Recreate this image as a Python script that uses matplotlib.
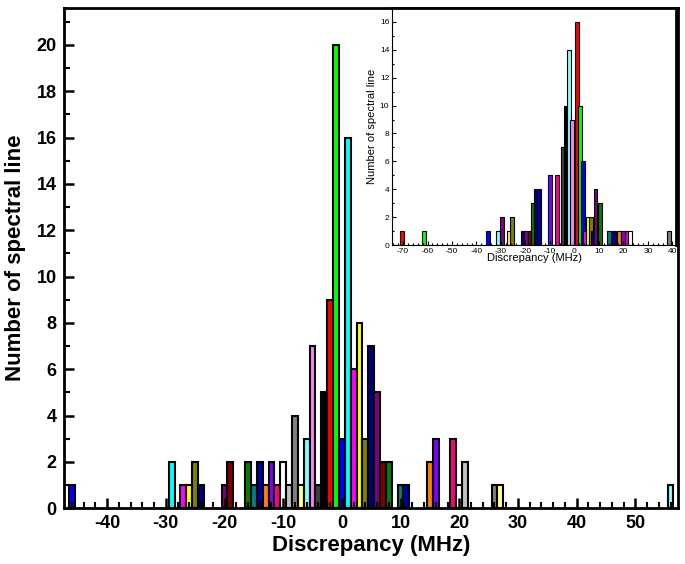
import numpy as np
import matplotlib
matplotlib.use("Agg")
import matplotlib.pyplot as plt
from matplotlib.ticker import MultipleLocator

plt.rcParams['font.family'] = ['Liberation Sans', 'DejaVu Sans']
plt.rcParams['axes.unicode_minus'] = False

# Origin default colour cycle (each new bar takes the next colour)
ORIGIN = ['#000000', '#FF0000', '#00FF00', '#0000FF', '#00FFFF', '#FF00FF',
          '#FFFF00', '#808000', '#000080', '#800080', '#800000', '#008000',
          '#008080', '#0000A0', '#FF8000', '#8000FF', '#FF0080', '#FFFFFF',
          '#C0C0C0', '#808080', '#FFFF80', '#80FFFF', '#FF80FF', '#404040']

# main histogram: discrepancy (MHz) -> number of lines
main_x = [-46, -29, -27, -26, -25, -24, -20, -19, -16, -15, -14, -13, -12,
          -11, -10, -9, -8, -7, -6, -5, -4, -3, -2, -1, 0, 1, 2, 3, 4, 5,
          6, 7, 8, 10, 11, 15, 16, 19, 20, 21, 26, 27, 56]
main_n = [1, 2, 1, 1, 2, 1, 1, 2, 2, 1, 2, 1, 2, 1, 2, 1, 4, 1, 3, 7, 1, 5,
          9, 20, 3, 16, 6, 8, 3, 7, 5, 2, 2, 1, 1, 2, 3, 3, 1, 2, 1, 1, 1]

# inset histogram
ins_x = [-70.5, -61.3, -35.3, -31.3, -29.5, -26.8, -25.4, -21.0, -19.6, -18.3,
         -16.8, -15.8, -14.6, -10.1, -7.3, -4.8, -3.3, -2.2, -0.9, 1.1, 2.2,
         3.6, 4.5, 5.6, 6.6, 7.5, 8.6, 10.4, 14.0, 16.3, 18.3, 19.8, 21.3,
         22.8, 38.6]
ins_n = [1, 1, 1, 1, 2, 1, 2, 1, 1, 1, 3, 4, 4, 5, 5, 7, 10, 14, 9, 16, 10,
         6, 1, 2, 2, 1, 4, 3, 1, 1, 1, 1, 1, 1, 1]
ins_col = [1, 2, 3, 21, 9, 6, 7, 8, 9, 10, 11, 8, 13, 15, 16, 23, 0, 21, 22,
           1, 2, 3, 5, 6, 7, 8, 9, 11, 12, 13, 14, 15, 16, 17, 19]

fig = plt.figure(figsize=(6.85, 5.64), dpi=100)
ax = fig.add_axes([0.093, 0.099, 0.897, 0.887])

main_col = [ORIGIN[(3 + i) % 24] for i in range(len(main_x))]
ax.bar(main_x, main_n, width=1.0, color=main_col, edgecolor='black',
       linewidth=1.5)

ax.set_xlim(-47.4, 57.3)
ax.set_ylim(0, 21.6)
ax.xaxis.set_major_locator(MultipleLocator(10))
ax.xaxis.set_minor_locator(MultipleLocator(2))
ax.yaxis.set_major_locator(MultipleLocator(2))
ax.yaxis.set_minor_locator(MultipleLocator(1))
ax.tick_params(which='major', direction='in', length=7, width=1.8,
               labelsize=13, pad=5)
ax.tick_params(which='minor', direction='in', length=4, width=1.5)
for lab in ax.get_xticklabels() + ax.get_yticklabels():
    lab.set_fontweight('bold')
for s in ax.spines.values():
    s.set_linewidth(2)
ax.set_xlabel('Discrepancy (MHz)', fontsize=16, fontweight='bold', labelpad=2)
ax.set_ylabel('Number of spectral line', fontsize=16, fontweight='bold',
              labelpad=8)

# inset
axi = fig.add_axes([0.5723, 0.5656, 0.4146, 0.4202])
axi.set_facecolor('white')
axi.bar(ins_x, ins_n, width=1.6, color=[ORIGIN[c] for c in ins_col],
        edgecolor='black', linewidth=0.8)
axi.set_xlim(-74.5, 41.5)
axi.set_ylim(0, 17)
axi.xaxis.set_major_locator(MultipleLocator(10))
axi.xaxis.set_minor_locator(MultipleLocator(2))
axi.yaxis.set_major_locator(MultipleLocator(2))
axi.yaxis.set_minor_locator(MultipleLocator(1))
axi.tick_params(which='major', direction='in', length=3, width=0.8,
                labelsize=6, pad=2)
axi.tick_params(which='minor', direction='in', length=1.5, width=0.8)
for side in ['left', 'bottom']:
    axi.spines[side].set_linewidth(0.8)
for side in ['top', 'right']:
    axi.spines[side].set_linewidth(2)
axi.set_xlabel('Discrepancy (MHz)', fontsize=8, labelpad=-1)
axi.set_ylabel('Number of spectral line', fontsize=8, labelpad=2)

fig.savefig('out.png', dpi=100)
